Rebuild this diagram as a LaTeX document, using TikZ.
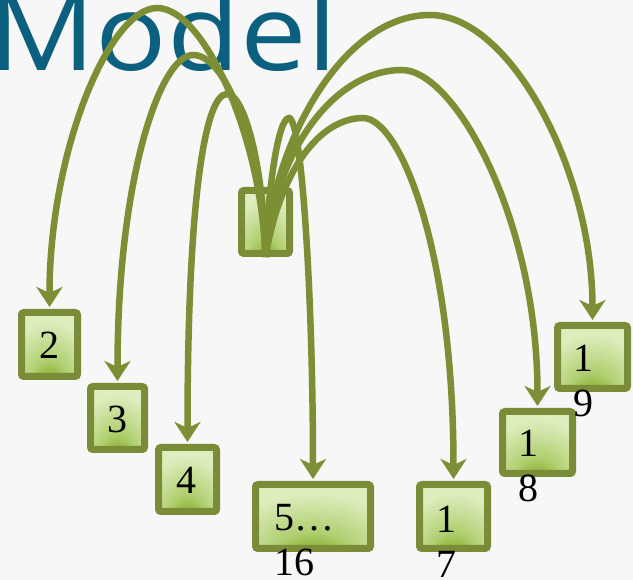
\documentclass[tikz,border=0pt]{standalone}
\usepackage{fontspec}
\setmainfont{Liberation Serif}
\newfontfamily\titlefont{Open Sans}
\usetikzlibrary{arrows.meta,calc}
\definecolor{bgcol}{RGB}{247,247,247}
\definecolor{titleblue}{RGB}{11,96,128}
\definecolor{linegreen}{RGB}{124,143,52}
\definecolor{outlinegreen}{RGB}{122,140,56}
\definecolor{glight}{RGB}{222,237,190}
\definecolor{gmid}{RGB}{176,207,112}
\definecolor{gdark}{RGB}{112,156,8}
\pgfdeclareradialshading{boxglow}{\pgfpoint{0bp}{-36bp}}{color(0bp)=(gdark); color(16bp)=(gmid); color(36bp)=(glight); color(70bp)=(glight)}
\tikzset{
  gbox/.style={draw=outlinegreen, line width=7pt, rounded corners=2.5pt, shading=boxglow, inner sep=0pt},
  lbl/.style={inner sep=0pt, font=\fontsize{40}{45}\selectfont, text=black},
  link/.style={draw=linegreen, line width=6.5pt, -{Stealth[length=20pt,width=26pt,inset=6pt]}, shorten >=2pt}
}
\begin{document}
\begin{tikzpicture}[x=1pt,y=-1pt]
\useasboundingbox (0,0) rectangle (633,580);
\clip (0,0) rectangle (633,580);
\fill[bgcol] (0,0) rectangle (633,580);
\node[anchor=base west, inner sep=0pt, text=titleblue, font=\titlefont\fontsize{106}{120}\selectfont, xscale=1.12] (title) at (-11.5,71) {Model};
% boxes
\node[gbox, minimum width=48pt, minimum height=63pt] (c) at (265.5,222) {};
\node[gbox, minimum width=56pt, minimum height=64pt] (b2) at (49.5,344.5) {};
\node[gbox, minimum width=54pt, minimum height=63pt] (b3) at (117.5,418) {};
\node[gbox, minimum width=58pt, minimum height=64pt] (b4) at (187.5,479.5) {};
\node[gbox, minimum width=115pt, minimum height=64pt] (b5) at (313,516.5) {};
\node[gbox, minimum width=68pt, minimum height=64pt] (b17) at (453.5,516.5) {};
\node[gbox, minimum width=70pt, minimum height=62pt] (b18) at (537.5,442.5) {};
\node[gbox, minimum width=70pt, minimum height=63pt] (b19) at (592.5,357) {};
% connectors
\draw[link] (c.south) .. controls (262,140) and (205,8) .. (157,8) .. controls (110,8) and (b2.north |- 0,150) .. (b2.north);
\draw[link] (c.south) .. controls (262,160) and (230,55) .. (193,55) .. controls (160,55) and (b3.north |- 0,180) .. (b3.north);
\draw[link] (c.south) .. controls (264,170) and (245,94) .. (227,94) .. controls (205,94) and (b4.north |- 0,200) .. (b4.north);
\draw[link] (c.south) .. controls (268,190) and (278,118) .. (289,118) .. controls (302,118) and (b5.north |- 0,300) .. (b5.north);
\draw[link] (c.south) .. controls (280,170) and (320,118) .. (363,118) .. controls (400,118) and (b17.north |- 0,250) .. (b17.north);
\draw[link] (c.south) .. controls (272,160) and (330,70) .. (402,70) .. controls (455,70) and (b18.north |- 0,220) .. (b18.north);
\draw[link] (c.south) .. controls (270,150) and (340,15) .. (430,15) .. controls (510,15) and (b19.north |- 0,170) .. (b19.north);
% labels (base anchor of a two-line node is its last line)
\node[lbl, anchor=base] (t2) at (49,359) {2};
\node[lbl, anchor=base] (t3) at (117,433) {3};
\node[lbl, anchor=base] (t4) at (186,494) {4};
\node[lbl, anchor=base west, align=left] (t5) at (274,576) {5…\\16};
\node[lbl, anchor=base west, align=left] (t17) at (436,577) {1\\7};
\node[lbl, anchor=base west, align=left] (t18) at (518,502) {1\\8};
\node[lbl, anchor=base west, align=left] (t19) at (573,417) {1\\9};
\end{tikzpicture}
\end{document}
